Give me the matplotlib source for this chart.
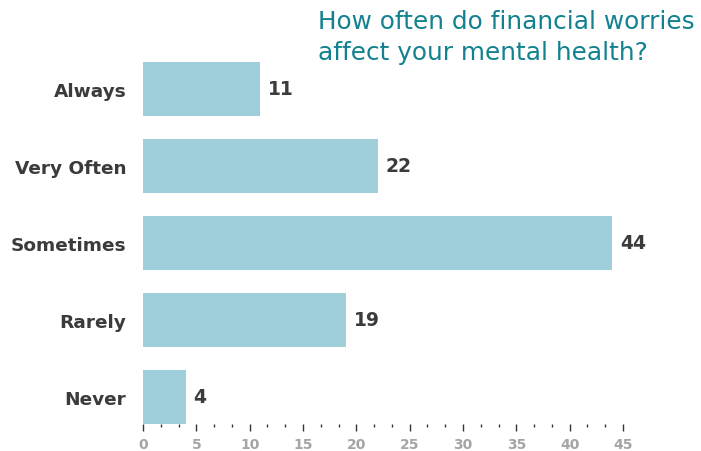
import matplotlib
matplotlib.use("Agg")
import matplotlib.pyplot as plt
import numpy as np

categories = ["Always", "Very Often", "Sometimes", "Rarely", "Never"]
values = [11, 22, 44, 19, 4]
xticks = [0, 5, 10, 15, 20, 25, 30, 35, 40, 45]
title = "How often do financial worries\naffect your mental health?"

plt.rcParams['font.family'] = ['DejaVu Sans']

W, H = 701, 452
fig = plt.figure(figsize=(W/100, H/100), dpi=100)
left, right, top, bottom = 143, 623, 63, 424.5
ax = fig.add_axes([left/W, 1 - bottom/H, (right-left)/W, (bottom-top)/H])

y = np.arange(len(categories))
ax.barh(y, values, height=0.7, color="#9fcfda")
ax.set_ylim(len(categories) - 0.65, -0.35)
ax.set_xlim(0, 45)

for spine in ax.spines.values():
    spine.set_visible(False)

ax.set_yticks(y)
ax.set_yticklabels(categories, fontsize=13.3, fontweight='bold', color='#3b3b3b')
ax.tick_params(axis='y', length=0, pad=12)

ax.set_xticks(xticks)
ax.set_xticklabels([str(t) for t in xticks], fontsize=10, fontweight='bold', color='#a5a5a5')
ax.set_xticks(np.arange(0, 45.01, 5/3), minor=True)
ax.tick_params(axis='x', which='major', length=5, width=1, color='#333333', direction='out', pad=5)
ax.tick_params(axis='x', which='minor', length=2.5, width=1, color='#333333', direction='out')

for yi, v in zip(y, values):
    ax.text(v + 0.75, yi, str(v), va='center', ha='left', fontsize=13.5,
            fontweight='bold', color='#3b3b3b')

fig.text(318/W, 1 - 10/H, title, ha='left', va='top', fontsize=17.8,
         color='#13818f', linespacing=1.38)

fig.savefig("out.png", dpi=100)
